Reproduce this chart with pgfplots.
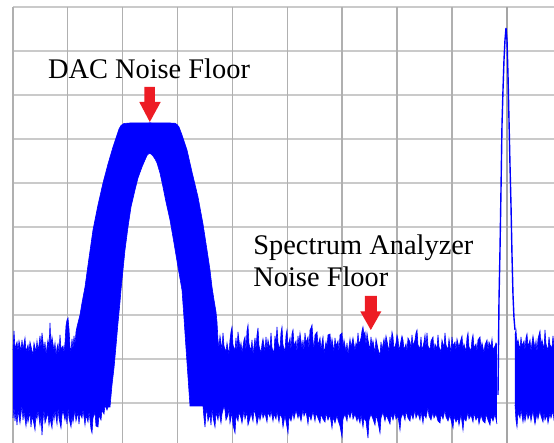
\documentclass[border=0pt]{standalone}
\usepackage{pgfplots}
\pgfplotsset{compat=1.18}
\usepgfplotslibrary{fillbetween}
\usepackage{fontspec}
\setmainfont{Liberation Serif}
\definecolor{trace}{RGB}{0,0,255}
\definecolor{arrowred}{RGB}{237,28,36}
\definecolor{vgrid}{RGB}{176,176,176}
\definecolor{hgrid}{RGB}{202,202,202}
\definecolor{cgrid}{RGB}{165,165,165}
\begin{document}
\begin{tikzpicture}
\begin{axis}[
  width=277pt, height=221.5pt, scale only axis,
  xmin=0, xmax=554, ymin=0, ymax=443, y dir=reverse,
  axis line style={draw=none},
  xtick=\empty, ytick=\empty,
  clip=true, set layers,
]
% grid (10 x 10 divisions, spectrum-analyzer screen), kept behind the trace
\pgfplotsinvokeforeach{7,51,95,139,183,227,271,315,359,403}{
  \addplot[hgrid, line width=0.6pt, on layer=axis background, forget plot] coordinates {(12.8,#1)(554,#1)};
}
\pgfplotsinvokeforeach{67.7,122.6,177.5,232.4,287.3,342.2,397.1,452}{
  \addplot[vgrid, line width=0.75pt, on layer=axis background, forget plot] coordinates {(#1,7)(#1,443)};
}
\addplot[cgrid, line width=1.1pt, on layer=axis background, forget plot] coordinates {(506.9,7)(506.9,443)};
\addplot[vgrid, line width=1pt, on layer=axis background, forget plot] coordinates {(12.8,7)(12.8,443)};

% ---- trace: upper envelope (left noise, DAC noise floor hump, middle noise)
\addplot[name path=top1, trace, line width=0.3pt] coordinates {
(13,350)(14,331)(15,349)(17,342)(18,352)(19,341)(21,351)(22,340)(23,350)(25,338)(26,352)(28,345)(29,353)(30,342)(32,351)(33,355)(34,343)(36,352)(37,341)(38,350)(39,345)(40,336)(41,349)(42,333)(44,351)(45,342)(46,355)(47,347)(48,340)(49,350)(50,323)(51,347)(52,337)(54,351)(55,343)(56,356)(57,348)(58,344)(59,355)(60,335)(61,349)(63,346)(64,353)(65,343)(66,326)(67,320)(68,318)(69,329)(70,347)(71,352)(72,339)(73,350)(74,336)(75,345)(76,332)(77,327)
(80,315)(82,303)(85,287)(89,258)(93,230)(98,205)(103,183)(108,164)(113,147)(117,135)(119,129)(121,125.5)(124,123.5)(130,123)(150,122.8)(170,123)(175,123.3)(177,124.5)(179,127)(182,135)(187,150)(192,172)(198,197)(203,224)(207,250)(210,270)(212,287)(214,300)(216,312)(217,322)
(218,340)(219,348)(220,336)(222,350)(223,333)(224,346)(226,352)(227,343)(229,355)(230,340)(231,332)(232,327)(233,345)(235,351)(236,338)(237,352)(238,332)(240,349)(241,343)(242,353)(244,340)(245,337)(246,352)(247,331)(248,325)(249,344)(251,351)(252,340)(253,355)(255,338)(256,350)(257,335)(258,328)(259,346)(261,353)(262,344)(263,339)(265,352)(266,337)(267,350)(268,340)(270,350)(271,333)(272,348)(274,353)(275,336)(276,344)(277,327)(278,343)(280,350)(281,333)(282,327)(283,345)(285,352)(286,336)(287,330)(288,347)(290,338)(291,351)(292,334)(293,330)(294,346)(296,341)(297,353)(298,336)(299,345)(300,333)(302,349)(303,340)(304,352)(305,333)(306,343)(308,337)(309,350)(310,330)(311,328)(312,325)(313,341)(314,349)(315,335)(317,332)(318,346)(320,338)(321,350)(322,343)(323,337)(324,354)(326,342)(327,348)(328,335)(330,334)(331,347)(332,339)(334,352)(335,338)(336,346)(338,341)(339,353)(340,335)(342,333)(343,348)(344,340)(346,352)(347,343)(348,355)(350,339)(351,347)(352,343)(353,338)(355,351)(356,343)(357,348)(358,333)(359,345)(361,338)(362,331)(363,327)(364,335)(365,332)(366,346)(367,333)(368,340)(370,350)(371,337)(372,346)(373,341)(375,353)(376,339)(377,344)(378,349)(380,356)(381,342)(382,350)(384,339)(385,346)(386,336)(387,341)(389,352)(390,337)(391,346)(392,332)(393,337)(394,350)(396,343)(397,335)(398,339)(399,351)(401,341)(402,336)(403,340)(404,350)(406,344)(407,352)(408,338)(410,342)(411,349)(412,335)(413,346)(415,340)(416,333)(417,330)(418,345)(420,349)(421,337)(422,351)(424,342)(425,335)(426,348)(427,333)(428,346)(430,350)(431,341)(433,337)(434,352)(435,344)(437,349)(438,335)(439,347)(441,352)(442,340)(444,348)(445,333)(446,345)(448,350)(449,339)(451,353)(452,337)(453,346)(455,342)(456,351)(457,339)(459,348)(460,343)(462,336)(463,350)(464,344)(466,352)(467,338)(468,333)(469,347)(471,351)(472,340)(473,335)(474,348)(476,344)(477,352)(478,340)(480,337)(481,349)(482,343)(484,353)(485,345)(487,340)(488,351)(489,342)(491,347)(492,339)(493,350)(495,346)(496,343)(497,345)
};
% ---- trace: lower envelope (left noise, inner arch of the hump, middle noise)
\addplot[name path=bot1, trace, line width=0.3pt] coordinates {
(13,418)(14,406)(15,421)(16,412)(17,425)(18,410)(20,423)(21,414)(22,405)(23,420)(24,411)(26,426)(27,415)(28,422)(30,412)(31,427)(32,416)(34,424)(35,430)(36,413)(37,419)(38,410)(40,425)(41,414)(42,435)(43,420)(44,409)(45,423)(47,416)(48,413)(49,425)(50,418)(52,428)(53,412)(54,420)(55,410)(57,424)(58,407)(59,418)(61,428)(62,415)(63,410)(65,420)(66,414)(67,424)(68,407)(69,418)(71,427)(72,416)(73,422)(75,410)(76,421)(78,412)(79,424)(80,413)(82,418)(83,409)(85,425)(86,415)(88,422)(89,411)(91,429)(92,433)(93,418)(95,412)(96,426)(98,427)(99,415)(101,420)(102,410)(104,414)(105,405)(107,410)(108,407)(110,407)
(112,385)(114,368)(116,346)(118,323)(120,302)(121,290)(123,270)(125,250)(128,227)(131,207)(135,190)(138,178)(142,167)(145,160)(147,155.5)(149,153.5)(151,154)(153,156)(155,159)(157,163)(160,173)(163,187)(166,202)(170,220)(174,243)(178,267)(182,290)(184,318)(186,348)(188,377)(190,406)(196,406)(203,406)
(204,418)(205,427)(206,413)(207,410)(208,421)(210,414)(211,425)(212,408)(213,417)(215,427)(216,412)(218,420)(219,411)(221,423)(222,414)(224,406)(225,410)(226,420)(228,415)(229,408)(230,423)(232,412)(233,425)(235,433)(236,415)(238,421)(239,412)(241,418)(242,423)(244,410)(245,419)(247,412)(248,425)(250,418)(251,412)(253,421)(254,409)(256,417)(257,424)(259,414)(260,420)(262,411)(263,418)(265,413)(267,422)(268,412)(270,417)(271,410)(273,421)(274,414)(276,419)(277,411)(279,422)(280,414)(282,418)(283,427)(285,415)(286,421)(288,433)(289,416)(291,421)(293,412)(294,419)(296,410)(298,418)(299,413)(301,421)(303,409)(304,416)(306,411)(308,424)(309,414)(311,420)(313,411)(315,421)(316,413)(318,418)(320,423)(321,414)(323,419)(325,422)(326,413)(328,420)(330,415)(332,428)(333,417)(335,423)(337,415)(338,420)(340,426)(342,437)(343,419)(345,414)(347,421)(348,412)(350,418)(352,410)(353,419)(355,414)(357,421)(358,416)(360,423)(361,414)(363,427)(364,418)(366,421)(368,438)(369,420)(371,414)(373,419)(375,425)(376,415)(378,422)(380,433)(381,418)(383,412)(385,421)(386,415)(388,419)(390,424)(391,414)(393,420)(395,412)(396,419)(398,416)(400,430)(401,418)(403,413)(405,420)(406,411)(408,418)(410,421)(411,413)(413,419)(415,410)(416,418)(418,413)(420,420)(421,411)(423,423)(424,414)(426,418)(428,407)(429,416)(431,420)(433,412)(434,418)(436,414)(438,421)(440,423)(441,414)(443,419)(445,410)(446,417)(448,421)(450,415)(451,420)(453,428)(454,416)(456,422)(458,418)(459,425)(461,414)(463,430)(464,418)(466,421)(468,412)(469,419)(471,415)(473,422)(474,413)(476,420)(478,416)(479,424)(481,415)(483,421)(485,423)(486,414)(488,420)(490,425)(491,416)(493,421)(495,414)(496,419)(497,424)
};
\addplot[trace] fill between[of=top1 and bot1];

% ---- trace right of the carrier
\addplot[name path=top2, trace, line width=0.3pt] coordinates {
(515,335)(516,330)(517,345)(518,340)(520,350)(521,337)(522,346)(524,341)(525,351)(526,338)(527,334)(528,347)(530,340)(531,352)(532,343)(533,336)(535,349)(536,341)(537,353)(538,339)(540,331)(541,346)(542,340)(544,350)(545,330)(546,344)(548,351)(549,337)(550,345)(552,348)(553,336)(554,347)(556,342)
};
\addplot[name path=bot2, trace, line width=0.3pt] coordinates {
(515,405)(516,420)(517,427)(518,412)(520,418)(521,409)(523,422)(524,414)(525,421)(527,411)(528,419)(530,413)(531,421)(533,410)(534,418)(535,424)(537,413)(538,419)(540,410)(541,416)(543,422)(544,412)(545,420)(547,415)(548,423)(550,413)(551,418)(553,411)(554,420)(556,416)
};
\addplot[trace] fill between[of=top2 and bot2];

% ---- carrier (single tone)
\addplot[trace, line width=0.7pt] coordinates {
(498,395)(498.5,350)(499,300)(500,250)(501,190)(502,125)(503,90)(504,60)(505,40)(506,28)(507,40)(508,75)(509,120)(510,165)(511,205)(512,255)(513,295)(514,318)(515,330)
};

% ---- annotations
\node[anchor=base, inner sep=0pt, font=\fontsize{14.2pt}{17pt}\selectfont] at (axis cs:149,79) {DAC Noise Floor};
\node[anchor=base west, inner sep=0pt, font=\fontsize{14.2pt}{17pt}\selectfont] at (axis cs:253,255) {Spectrum Analyzer};
\node[anchor=base west, inner sep=0pt, font=\fontsize{14.2pt}{17pt}\selectfont] at (axis cs:253,287) {Noise Floor};
\fill[arrowred] (axis cs:144.5,87) -- (axis cs:155,87) -- (axis cs:155,102) -- (axis cs:160.7,102) -- (axis cs:149.8,122) -- (axis cs:139.3,102) -- (axis cs:144.5,102) -- cycle;
\fill[arrowred] (axis cs:365,296) -- (axis cs:377,296) -- (axis cs:377,311.5) -- (axis cs:381.3,311.5) -- (axis cs:370.8,330) -- (axis cs:360.3,311.5) -- (axis cs:365,311.5) -- cycle;
\end{axis}
\end{tikzpicture}
\end{document}
